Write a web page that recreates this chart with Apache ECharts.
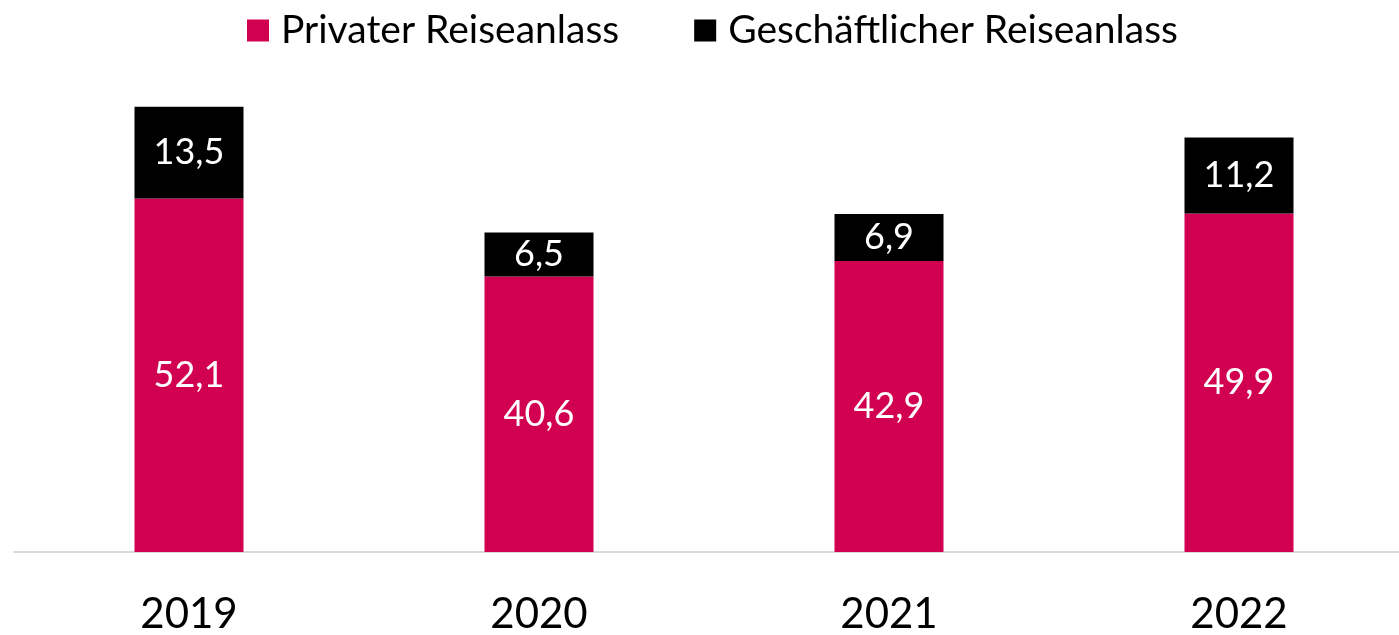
<!DOCTYPE html>
<html>
<head>
<meta charset="utf-8">
<script src="https://cdn.jsdelivr.net/npm/echarts@6/dist/echarts.min.js"></script>
<style>
  html, body { margin: 0; padding: 0; background: #fff; overflow: hidden; }
  /* the plot runs a little past the right edge in the original */
  #chart { width: 1414px; height: 635px; }
</style>
</head>
<body>
<div id="chart"></div>
<script>
const years = ['2019', '2020', '2021', '2022']
const privat = [52.1, 40.6, 42.9, 49.9]
const geschaeftlich = [13.5, 6.5, 6.9, 11.2]

const fontFamily = 'Lato, "Open Sans", sans-serif'
const fmt = (p) => String(p.value).replace('.', ',')

const chart = echarts.init(document.getElementById('chart'))

chart.setOption({
  animation: false,
  textStyle: { fontFamily },
  legend: {
    left: 242,
    top: 6,
    itemWidth: 22,
    itemHeight: 22,
    itemGap: 75,
    icon: 'rect',
    textStyle: { fontSize: 39, color: '#000', fontFamily, padding: [0, 0, 0, 7] },
    data: ['Privater Reiseanlass', 'Geschäftlicher Reiseanlass']
  },
  grid: { left: 14, right: 0, top: 77, bottom: 83, containLabel: false },
  xAxis: {
    type: 'category',
    data: years,
    axisLine: { lineStyle: { color: '#d9d9d9', width: 2 } },
    axisTick: { show: false },
    axisLabel: { fontSize: 42, color: '#000', margin: 41, fontFamily }
  },
  yAxis: {
    type: 'value',
    min: 0,
    max: 70,
    show: false
  },
  series: [
    {
      name: 'Privater Reiseanlass',
      type: 'bar',
      stack: 'total',
      barWidth: 109,
      data: privat,
      itemStyle: { color: '#d20050' },
      label: { show: true, position: 'inside', color: '#fff', fontSize: 36, fontFamily, formatter: fmt }
    },
    {
      name: 'Geschäftlicher Reiseanlass',
      type: 'bar',
      stack: 'total',
      barWidth: 109,
      data: geschaeftlich,
      itemStyle: { color: '#000' },
      label: { show: true, position: 'inside', color: '#fff', fontSize: 36, fontFamily, formatter: fmt }
    }
  ]
})
</script>
</body>
</html>
